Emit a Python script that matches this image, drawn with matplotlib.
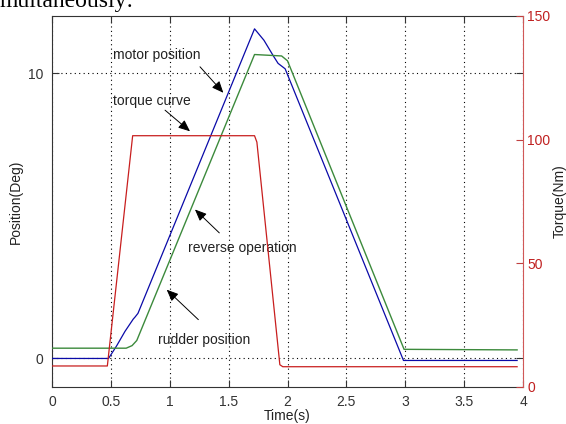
import matplotlib
matplotlib.use("Agg")
import matplotlib.pyplot as plt

# ---- data ----
motor_t = [0.0, 0.48, 0.55, 0.62, 0.69, 0.705, 0.73, 1.72, 1.80, 1.88, 1.92, 1.98, 2.985, 3.95]
motor_pos = [0.0, 0.0, 0.45, 0.95, 1.38, 1.45, 1.58, 11.55, 11.15, 10.6, 10.34, 10.15, -0.07, -0.07]

rudder_t = [0.0, 0.63, 0.68, 0.72, 1.72, 1.95, 2.0, 2.99, 3.95]
rudder_pos = [0.36, 0.36, 0.45, 0.63, 10.65, 10.6, 10.43, 0.32, 0.30]

torque_t = [0.0, 0.47, 0.685, 1.72, 1.74, 1.935, 1.96, 3.95]
torque_nm = [8.5, 8.5, 101.6, 101.6, 99.0, 9.0, 8.2, 8.2]

x_ticks = [0, 0.5, 1, 1.5, 2, 2.5, 3, 3.5, 4]
x_tick_labels = ["0", "0.5", "1", "1.5", "2", "2.5", "3", "3.5", "4"]
pos_ticks = [0, 10]
torque_ticks = [0, 50, 100, 150]

labels = ["motor position", "torque curve", "reverse operation", "rudder position"]
label_xy = [(0.515, 10.63), (0.52, 9.02), (1.152, 3.87), (0.898, 0.66)]
arrow_tail = [(1.257, 10.22), (0.96, 8.70), (1.421, 4.40), (1.243, 1.36)]
arrow_head = [(1.455, 9.31), (1.172, 7.96), (1.214, 5.22), (0.974, 2.41)]

plt.rcParams['font.family'] = ['Liberation Sans', 'DejaVu Sans']

fig = plt.figure(figsize=(5.66, 4.24), dpi=100)
ax = fig.add_axes([52 / 566, 37 / 424, 471 / 566, 371 / 424])
ax2 = ax.twinx()

blue = '#0a0aa8'
green = '#3c8a3c'
red = '#c81e1e'
dark = '#333333'

ax.plot(motor_t, motor_pos, color=blue, lw=0.9, zorder=3)
ax.plot(rudder_t, rudder_pos, color=green, lw=1.0, zorder=3)
ax2.plot(torque_t, torque_nm, color=red, lw=0.9, zorder=2)

ax.set_xlim(0, 4)
ax.set_ylim(-1.0, 12.0)
ax2.set_ylim(0, 150)

ax.set_xticks(x_ticks)
ax.set_xticklabels(x_tick_labels)
ax.set_yticks(pos_ticks)
ax2.set_yticks(torque_ticks)

ax.grid(True, linestyle=(0, (1, 3)), color='black', lw=0.8)

ax.tick_params(axis='both', direction='in', length=5, width=0.8, colors=dark,
               labelsize=10, top=True, right=True)
ax.tick_params(axis='y', pad=6)
ax.tick_params(axis='x', pad=6)
ax2.tick_params(axis='y', direction='in', length=5, width=0.8, colors='#c04040',
                labelcolor='#c02020', labelsize=10, pad=3)

for s in ['left', 'bottom', 'top']:
    ax.spines[s].set_color(dark)
ax.spines['right'].set_visible(False)
ax2.spines['right'].set_color('#d05858')
for s in ['left', 'bottom', 'top']:
    ax2.spines[s].set_visible(False)

ax.set_xlabel('Time(s)', fontsize=10, color='#222222', labelpad=0)
ax.set_ylabel('Position(Deg)', fontsize=10, color='#222222', labelpad=4)
ax2.set_ylabel('Torque(Nm)', fontsize=10, color='#222222', labelpad=2)

for txt, (tx, ty) in zip(labels, label_xy):
    ax.text(tx, ty, txt, fontsize=10, color='#222222', ha='left', va='center', zorder=5)
for (x0, y0), (x1, y1) in zip(arrow_tail, arrow_head):
    ax.annotate('', xy=(x1, y1), xytext=(x0, y0),
                arrowprops=dict(arrowstyle='-|>,head_length=0.7,head_width=0.3',
                                color='black', lw=0.7, shrinkA=0, shrinkB=0),
                zorder=5)

fig.text(0.0, 1 - 7 / 424, 'multaneously:', family=['Liberation Serif', 'DejaVu Serif'],
         fontsize=17, color='black', ha='left', va='baseline')

fig.savefig('out.png', dpi=100)
